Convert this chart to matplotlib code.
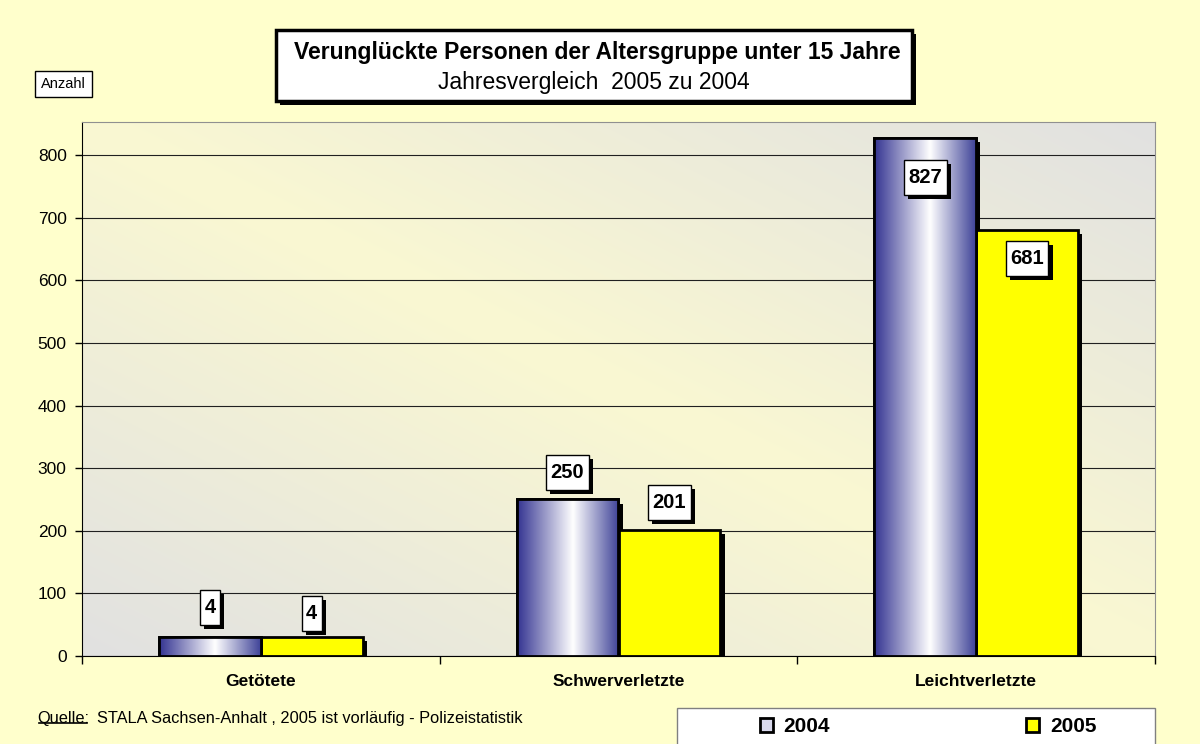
import numpy as np
import matplotlib
matplotlib.use("Agg")
import matplotlib.pyplot as plt
import matplotlib.patheffects as pe
from matplotlib.colors import LinearSegmentedColormap, to_rgb
from matplotlib.patches import Rectangle, Patch
from matplotlib.path import Path

plt.rcParams["font.family"] = ["Liberation Sans", "DejaVu Sans"]

# Daten
kategorien = ["Getötete", "Schwerverletzte", "Leichtverletzte"]
werte_2004 = [4, 250, 827]
werte_2005 = [4, 201, 681]
jahre = ["2004", "2005"]

# kleine Werte werden im Original mit Mindesthöhe gezeichnet
min_hoehe = 30

# Farben
bg_aussen = "#FFFFCC"
bg_hell = "#FAF8D2"
bg_grau = "#E1E1E1"
gelb = "#FFFF00"
cmap_2004 = LinearSegmentedColormap.from_list(
    "blau_weiss", [(0, "#333391"), (0.55, "#FFFFFF"), (1, "#3F4398")])


def kasten(x0, y0, width, height, mutation_size, px=0.22, py=0.4):
    # Rechteck mit mehr Innenabstand oben/unten als links/rechts
    padx, pady = px * mutation_size, py * mutation_size
    x0, y0 = x0 - padx, y0 - pady
    x1, y1 = x0 + width + 2 * padx, y0 + height + 2 * pady
    return Path([(x0, y0), (x1, y0), (x1, y1), (x0, y1), (x0, y0)], closed=True)


def schatten(off=3):
    return [pe.SimplePatchShadow(offset=(off, -off), shadow_rgbFace="black", alpha=1), pe.Normal()]


fig = plt.figure(figsize=(12, 7.44), dpi=100, facecolor=bg_aussen)
ax = fig.add_axes([82 / 1200, 1 - 656 / 744, (1155 - 82) / 1200, (656 - 122) / 744])

# Hintergrund der Zeichenfläche (diagonaler Verlauf)
X, Y = np.meshgrid(np.linspace(0, 1, 300), np.linspace(0, 1, 300))
d = np.abs(X + Y - 1)[..., None]
rgb = np.array(to_rgb(bg_hell)) * (1 - d) + np.array(to_rgb(bg_grau)) * d
ax.imshow(rgb, extent=[0, 1, 0, 1], transform=ax.transAxes, origin="lower",
          aspect="auto", zorder=0)

x = np.arange(len(kategorien))
breite = 0.285

h04 = np.maximum(werte_2004, min_hoehe)
h05 = np.maximum(werte_2005, min_hoehe)

bars04 = ax.bar(x - breite / 2, h04, breite, facecolor="white", edgecolor="black",
                linewidth=2, zorder=2, path_effects=schatten())
bars05 = ax.bar(x + breite / 2, h05, breite, facecolor=gelb, edgecolor="black",
                linewidth=2, zorder=2, path_effects=schatten())

# Verlauf in den 2004-Balken
grad = np.linspace(0, 1, 256).reshape(1, -1)
for b in bars04:
    im = ax.imshow(grad, cmap=cmap_2004, extent=[b.get_x(), b.get_x() + b.get_width(), 0, b.get_height()],
                   aspect="auto", zorder=2.5, interpolation="bicubic")
    im.set_clip_path(b)
ax.bar(x - breite / 2, h04, breite, facecolor="none", edgecolor="black", linewidth=2, zorder=3)

ax.set_xlim(-0.5, 2.5)
ax.set_ylim(0, 853)

# Datenbeschriftungen
versatz_2004 = [30, 27, -39]
versatz_2005 = [24, 28, -29]
for bars, werte, versatz in [(bars04, werte_2004, versatz_2004), (bars05, werte_2005, versatz_2005)]:
    for b, v, dy in zip(bars, werte, versatz):
        ann = ax.annotate(str(v), xy=(b.get_x() + b.get_width() / 2, b.get_height()),
                          xytext=(0, dy * 0.72), textcoords="offset points",
                          ha="center", va="center", fontsize=14.5, fontweight="bold", zorder=6,
                          bbox=dict(boxstyle=kasten, fc="white", ec="black", lw=1))
        ann.get_bbox_patch().set_path_effects(schatten())

# Achsen
ax.set_yticks(range(0, 801, 100))
ax.tick_params(axis="y", labelsize=12.5, length=5, width=1, direction="out", pad=6)
ax.set_xticks(x)
ax.set_xticklabels(kategorien, fontsize=12.5, fontweight="bold")
ax.set_xticks([-0.5, 0.5, 1.5, 2.5], minor=True)
ax.tick_params(axis="x", which="major", length=0, pad=13)
ax.tick_params(axis="x", which="minor", length=6, width=1)
ax.grid(axis="y", color="#202020", linewidth=0.8, zorder=1)
ax.set_axisbelow(True)
for s in ["top", "right"]:
    ax.spines[s].set_color("#909090")
ax.spines["left"].set_color("black")
ax.spines["bottom"].set_color("black")

# Titelkasten
titel_box = Rectangle((276 / 1200, 1 - 101 / 744), (912 - 276) / 1200, 71 / 744,
                      transform=fig.transFigure, fc="white", ec="black", lw=2.5, zorder=5,
                      path_effects=schatten(3))
fig.patches.append(titel_box)
fig.text(597 / 1200, 1 - 52 / 744, "Verunglückte Personen der Altersgruppe unter 15 Jahre",
         ha="center", va="center", fontsize=16.5, fontweight="bold", zorder=6)
fig.text(594 / 1200, 1 - 82 / 744, "Jahresvergleich  2005 zu 2004",
         ha="center", va="center", fontsize=16.5, zorder=6)

fig.text(63.5 / 1200, 1 - 84 / 744, "Anzahl", ha="center", va="center", fontsize=10.5,
         bbox=dict(boxstyle="square,pad=0.4", fc="white", ec="black", lw=1))

# Quelle
q = fig.text(37 / 1200, 1 - 718 / 744, "Quelle:", ha="left", va="center", fontsize=11.8)
fig.canvas.draw()
bb = q.get_window_extent().transformed(fig.transFigure.inverted())
fig.add_artist(plt.Line2D([bb.x0 + 2 / 1200, bb.x1 - 2 / 1200], [bb.y0 + 0.004, bb.y0 + 0.004],
                          color="black", lw=1.2, transform=fig.transFigure))
fig.text(bb.x1 + 8 / 1200, 1 - 718 / 744, "STALA Sachsen-Anhalt , 2005 ist vorläufig - Polizeistatistik",
         ha="left", va="center", fontsize=11.8)

# Legende
fig.patches.append(Rectangle((677 / 1200, -0.01), (1155 - 677) / 1200, 1 - 708 / 744 + 0.01,
                             transform=fig.transFigure, fc="white", ec="#808080", lw=1))
handles = [Patch(fc="#D8D8EC", ec="black", lw=2), Patch(fc=gelb, ec="black", lw=2)]
fig.legend(handles, jahre, ncol=2, frameon=False, loc="center",
           bbox_to_anchor=(928 / 1200, 1 - 727 / 744), handlelength=0.62, handleheight=0.62,
           handletextpad=0.5, columnspacing=9.45, prop=dict(size=15, weight="bold"))

fig.savefig("out.png", dpi=100, facecolor=bg_aussen)
